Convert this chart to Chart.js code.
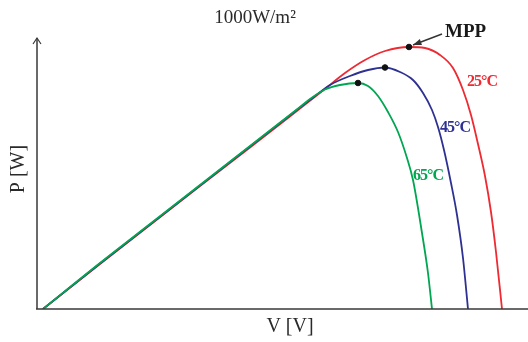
<!DOCTYPE html>
<html>
<head>
<meta charset="utf-8">
<script src="https://cdn.jsdelivr.net/npm/chart.js@4"></script>
<style>
  html, body { margin: 0; padding: 0; background: #fff; }
  #wrap { width: 528px; height: 342px; }
</style>
</head>
<body>
<div id="wrap"><canvas id="pv"></canvas></div>
<script>
// P-V curves of a PV module at 1000W/m² for three cell temperatures
const temps = ['25°C', '45°C', '65°C'];
const colors = ['#ee2a32', '#2e3192', '#00a651'];

const v25 = [0.5, 6.2, 11.2, 16.2, 21.2, 26.2, 28.5, 30.7, 32.7, 34.7, 37.1, 38.7, 40.2, 41.5, 42.5, 43.3, 44.0, 44.7, 45.3, 45.8, 46.4];
const p25 = [0, 4.5, 8.4, 12.3, 16.15, 20.05, 21.85, 23.6, 24.9, 25.8, 26.2, 26.1, 25.4, 24.1, 21.9, 19.4, 16.5, 13.3, 9.7, 5.7, 0];

const v45 = [0.5, 6.2, 11.2, 16.2, 21.2, 26.2, 27.7, 29.2, 31.2, 33.0, 34.7, 36.2, 37.5, 38.5, 39.4, 40.0, 40.6, 41.3, 41.9, 42.5, 43.0];
const p45 = [0, 4.55, 8.45, 12.35, 16.25, 20.15, 21.3, 22.4, 23.3, 23.9, 24.15, 23.7, 22.9, 21.6, 19.9, 18.2, 15.9, 12.6, 9.4, 5.1, 0];

const v65 = [0.5, 6.2, 11.2, 16.2, 21.2, 26.2, 27.2, 28.7, 30.2, 32.0, 33.0, 34.0, 35.0, 36.0, 36.9, 37.5, 38.4, 39.0, 39.4];
const p65 = [0, 4.6, 8.5, 12.4, 16.3, 20.2, 21.0, 21.95, 22.4, 22.6, 22.3, 21.3, 19.7, 17.7, 15.1, 12.9, 7.6, 3.6, 0];

// maximum power points
const mppV = [37.1, 34.7, 32.0];
const mppP = [26.2, 24.15, 22.6];

const toXY = (vs, ps) => vs.map((v, i) => ({ x: v, y: ps[i] }));
const curves = [toXY(v25, p25), toXY(v45, p45), toXY(v65, p65)];

const SERIF = '"Liberation Serif", "DejaVu Serif", serif';

// axes with arrow, titles and curve labels
const decor = {
    id: 'decor',
    afterDatasetsDraw(chart) {
        const { ctx, chartArea: a, scales } = chart;
        const x0 = a.left - 1, y0 = a.bottom;
        ctx.save();
        ctx.strokeStyle = '#3a3a3a';
        ctx.lineWidth = 1.5;
        ctx.beginPath();
        ctx.moveTo(x0, y0);
        ctx.lineTo(x0, a.top);
        ctx.moveTo(x0 - 1, y0);
        ctx.lineTo(chart.width, y0);
        ctx.stroke();
        ctx.lineWidth = 1.2;
        ctx.beginPath();
        ctx.moveTo(x0 - 4, a.top + 6);
        ctx.lineTo(x0, a.top);
        ctx.lineTo(x0 + 4, a.top + 6);
        ctx.stroke();

        ctx.fillStyle = '#2a2a2a';
        ctx.textAlign = 'center';
        ctx.textBaseline = 'middle';
        ctx.font = '19px ' + SERIF;
        ctx.fillText('1000W/m²', 255, 18);
        ctx.font = '20px ' + SERIF;
        ctx.fillText('V [V]', 290, 327);
        ctx.save();
        ctx.translate(19, 169);
        ctx.rotate(-Math.PI / 2);
        ctx.fillText('P [W]', 0, 0);
        ctx.restore();

        // MPP pointer
        const mx = scales.x.getPixelForValue(mppV[0]);
        const my = scales.y.getPixelForValue(mppP[0]);
        ctx.font = 'bold 19px ' + SERIF;
        ctx.textAlign = 'left';
        ctx.fillStyle = '#1a1a1a';
        ctx.fillText('MPP', 445, 32);
        const tx = mx + 4, ty = my - 2;
        const ang = Math.atan2(ty - 34, tx - 442);
        ctx.strokeStyle = '#333';
        ctx.lineWidth = 1.4;
        ctx.beginPath();
        ctx.moveTo(442, 34);
        ctx.lineTo(tx, ty);
        ctx.stroke();
        ctx.fillStyle = '#333';
        ctx.beginPath();
        ctx.moveTo(tx, ty);
        ctx.lineTo(tx - 9 * Math.cos(ang - 0.35), ty - 9 * Math.sin(ang - 0.35));
        ctx.lineTo(tx - 9 * Math.cos(ang + 0.35), ty - 9 * Math.sin(ang + 0.35));
        ctx.closePath();
        ctx.fill();

        // temperature labels
        const labelPos = [[467, 82], [440, 128], [413, 176]];
        ctx.font = 'bold 16px ' + SERIF;
        ctx.letterSpacing = '-1px';
        temps.forEach((t, i) => {
            ctx.fillStyle = colors[i];
            ctx.fillText(t, labelPos[i][0], labelPos[i][1]);
        });
        ctx.restore();
    }
};

new Chart(document.getElementById('pv'), {
    type: 'scatter',
    data: {
        datasets: [
            ...curves.map((pts, i) => ({
                label: temps[i],
                data: pts,
                showLine: true,
                borderColor: colors[i],
                borderWidth: 1.8,
                pointRadius: 0,
                cubicInterpolationMode: 'monotone',
                order: 3 - i
            })),
            {
                label: 'MPP',
                data: toXY(mppV, mppP),
                backgroundColor: '#111',
                borderColor: '#111',
                pointRadius: 2.8,
                order: 0
            }
        ]
    },
    options: {
        responsive: true,
        maintainAspectRatio: false,
        animation: false,
        layout: { autoPadding: false, padding: { left: 38, top: 38, right: 0, bottom: 33 } },
        scales: {
            x: { type: 'linear', min: 0, max: 49, display: false },
            y: { type: 'linear', min: 0, max: 27.1, display: false }
        },
        plugins: {
            legend: { display: false },
            tooltip: { enabled: false }
        }
    },
    plugins: [decor]
});
</script>
</body>
</html>
